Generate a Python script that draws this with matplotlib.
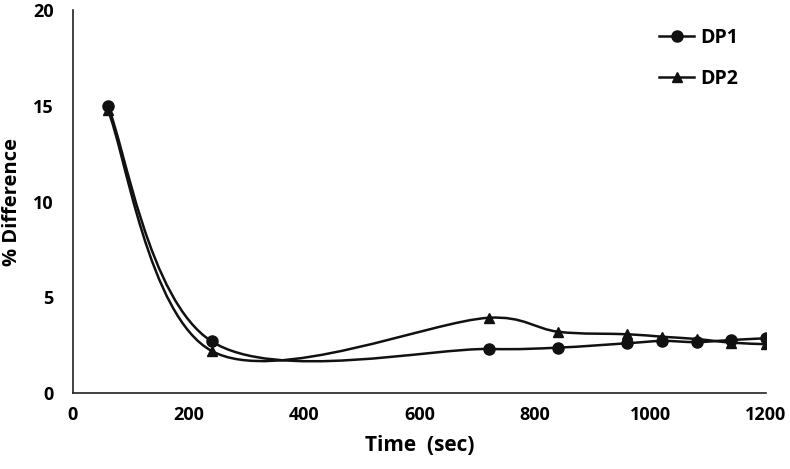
import numpy as np
import matplotlib
matplotlib.use("Agg")
import matplotlib.pyplot as plt
from matplotlib.path import Path
from matplotlib.patches import PathPatch

time_sec = [60, 240, 720, 840, 960, 1020, 1080, 1140, 1200]
dp1 = [15.0, 2.7, 2.3, 2.37, 2.6, 2.72, 2.66, 2.77, 2.86]
dp2 = [14.8, 2.2, 3.93, 3.2, 3.07, 2.94, 2.82, 2.63, 2.55]
x_ticks = [0, 200, 400, 600, 800, 1000, 1200]
y_ticks = [0, 5, 10, 15, 20]

plt.rcParams['font.family'] = ['Open Sans', 'DejaVu Sans']
color = '#111111'

fig = plt.figure(figsize=(7.9, 4.69), dpi=100)
ax = fig.add_axes([0.0924, 0.162, 0.8772, 0.8165])
ax.set_xlim(0, 1200)
ax.set_ylim(0, 20)


def smooth_path(x, y):
    # Excel-style smoothed line (Bezier), tangent lengths limited in display space
    bb = ax.get_window_extent()
    sx = bb.width / 1200.0
    sy = bb.height / 20.0
    pts = np.column_stack([np.asarray(x, float) * sx, np.asarray(y, float) * sy])
    n = len(pts)
    verts = [pts[0]]
    codes = [Path.MOVETO]
    for i in range(n - 1):
        p0 = pts[i - 1] if i > 0 else pts[i]
        p1 = pts[i]
        p2 = pts[i + 1]
        p3 = pts[i + 2] if i + 2 < n else pts[i + 1]
        d02 = np.hypot(*(p2 - p0))
        d13 = np.hypot(*(p3 - p1))
        d12 = np.hypot(*(p2 - p1))
        f1 = 1 / 6 if d02 / 6 < d12 / 2 else d12 / (2 * d02)
        f2 = 1 / 6 if d13 / 6 < d12 / 2 else d12 / (2 * d13)
        c1 = p1 + (p2 - p0) * f1
        c2 = p2 - (p3 - p1) * f2
        verts += [c1, c2, p2]
        codes += [Path.CURVE4] * 3
    verts = np.array(verts)
    verts[:, 0] /= sx
    verts[:, 1] /= sy
    return Path(verts, codes)


for ys, mk, lab, ms in [(dp1, 'o', 'DP1', 8), (dp2, '^', 'DP2', 7)]:
    ax.add_patch(PathPatch(smooth_path(time_sec, ys), fill=False, edgecolor=color, lw=1.8))
    ax.plot(time_sec, ys, linestyle='none', marker=mk, color=color, markersize=ms)
    ax.plot([], [], '-', marker=mk, color=color, markersize=ms, lw=1.8, label=lab)

ax.set_xticks(x_ticks)
ax.set_yticks(y_ticks)
ax.spines['top'].set_visible(False)
ax.spines['right'].set_visible(False)
for s in ['left', 'bottom']:
    ax.spines[s].set_color('#222222')
    ax.spines[s].set_linewidth(1.2)
ax.tick_params(axis='x', length=0, labelsize=13, pad=9)
ax.tick_params(axis='y', length=0, labelsize=13, pad=14)
for t in ax.get_xticklabels() + ax.get_yticklabels():
    t.set_fontweight('bold')
ax.set_xlabel('Time  (sec)', fontsize=15, fontweight='bold', labelpad=8)
ax.set_ylabel('% Difference', fontsize=14.5, fontweight='bold', labelpad=8)

leg = ax.legend(loc='upper right', bbox_to_anchor=(0.985, 1.0), frameon=False,
                prop={'weight': 'bold', 'size': 14}, handlelength=1.8,
                labelspacing=1.1, handletextpad=0.3)

fig.savefig('out.png', dpi=100)
